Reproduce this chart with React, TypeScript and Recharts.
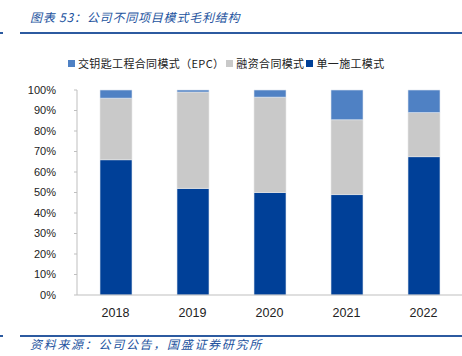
import { BarChart, Bar, XAxis, YAxis } from 'recharts';

const YEARS = ['2018', '2019', '2020', '2021', '2022'];
const SINGLE = [66, 52, 50, 49, 67.5];
const FINANCE = [30, 47, 46.5, 36.5, 21.5];
const EPC = [4, 1, 3.5, 14.5, 11];
const Y_TICKS = [0, 10, 20, 30, 40, 50, 60, 70, 80, 90, 100];
const BOUNDARY_TICKS = [0, 1, 2, 3, 4, 5];

const SERIES_NAMES = ['交钥匙工程合同模式（EPC）', '融资合同模式', '单一施工模式'];
const TITLE = '图表 53：公司不同项目模式毛利结构';
const SOURCE = '资料来源：公司公告，国盛证券研究所';

const C_EPC = '#4f81c4';
const C_FIN = '#c9c9c9';
const C_SINGLE = '#004098';
const AXIS = '#bfbfbf';
const BLUE_TEXT = '#23539e';

const data = YEARS.map((year, i) => ({
    year,
    single: SINGLE[i],
    finance: FINANCE[i],
    epc: EPC[i],
}));

const cjk = '"Noto Sans CJK SC", sans-serif';

export default function App() {
    const legendItems = [
        { name: SERIES_NAMES[0], color: C_EPC },
        { name: SERIES_NAMES[1], color: C_FIN },
        { name: SERIES_NAMES[2], color: C_SINGLE },
    ];
    return (
        <div style={{ position: 'absolute', left: 0, top: 0, width: 462, height: 356, background: '#fff', overflow: 'hidden' }}>
            {/* title */}
            <div style={{ position: 'absolute', left: 30, top: 8, fontFamily: cjk, fontStyle: 'italic', fontSize: 12, letterSpacing: 0.8, color: BLUE_TEXT, whiteSpace: 'nowrap' }}>
                {TITLE}
            </div>
            <div style={{ position: 'absolute', left: 0, top: 32, width: 3, height: 2, background: '#2c5aa0' }} />
            <div style={{ position: 'absolute', left: 20, top: 32, width: 442, height: 2, background: '#2c5aa0' }} />

            {/* legend */}
            <div style={{ position: 'absolute', left: 68, top: 55, display: 'flex', alignItems: 'center', fontFamily: cjk, fontSize: 11, letterSpacing: 0.35, color: '#222', whiteSpace: 'nowrap' }}>
                {legendItems.map((it) => (
                    <div key={it.name} style={{ display: 'flex', alignItems: 'center', marginRight: 2 }}>
                        <span style={{ display: 'inline-block', width: 7, height: 7, background: it.color, marginRight: 3 }} />
                        <span>{it.name}</span>
                    </div>
                ))}
            </div>

            <div style={{ position: 'absolute', left: 0, top: 0 }}>
                <BarChart width={462} height={330} data={data} margin={{ top: 90, right: 0, bottom: 5, left: 0 }}>
                    <YAxis
                        type="number"
                        domain={[0, 100]}
                        ticks={Y_TICKS}
                        interval={0}
                        width={77}
                        tickFormatter={(v) => `${v}%`}
                        axisLine={{ stroke: AXIS }}
                        tickLine={{ stroke: AXIS }}
                        tickSize={3}
                        tickMargin={18}
                        tick={{ fill: '#222', fontSize: 11, fontFamily: '"Liberation Sans", sans-serif' }}
                    />
                    <XAxis
                        dataKey="year"
                        height={30}
                        axisLine={{ stroke: AXIS }}
                        tickLine={false}
                        tickMargin={7}
                        tick={{ fill: '#222', fontSize: 12.5, fontFamily: '"Liberation Sans", sans-serif' }}
                    />
                    <XAxis
                        xAxisId="bounds"
                        type="number"
                        domain={[0, 5]}
                        ticks={BOUNDARY_TICKS}
                        interval={0}
                        mirror
                        axisLine={false}
                        tickLine={{ stroke: AXIS }}
                        tickSize={4}
                        tick={false}
                        height={0}
                    />
                    <Bar dataKey="single" stackId="s" fill={C_SINGLE} barSize={32} stroke="#dfe6f0" strokeWidth={0.6} isAnimationActive={false} />
                    <Bar dataKey="finance" stackId="s" fill={C_FIN} barSize={32} stroke="#e8e8e8" strokeWidth={0.6} isAnimationActive={false} />
                    <Bar dataKey="epc" stackId="s" fill={C_EPC} barSize={32} stroke="#dfe6f0" strokeWidth={0.6} isAnimationActive={false} />
                </BarChart>
            </div>

            {/* source */}
            <div style={{ position: 'absolute', left: 0, top: 335, width: 3, height: 1.5, background: '#2c5aa0' }} />
            <div style={{ position: 'absolute', left: 20, top: 335, width: 442, height: 1.5, background: '#2c5aa0' }} />
            <div style={{ position: 'absolute', left: 30, top: 335, fontFamily: cjk, fontStyle: 'italic', fontSize: 12, letterSpacing: 1.7, color: BLUE_TEXT, whiteSpace: 'nowrap' }}>
                {SOURCE}
            </div>
        </div>
    );
}
